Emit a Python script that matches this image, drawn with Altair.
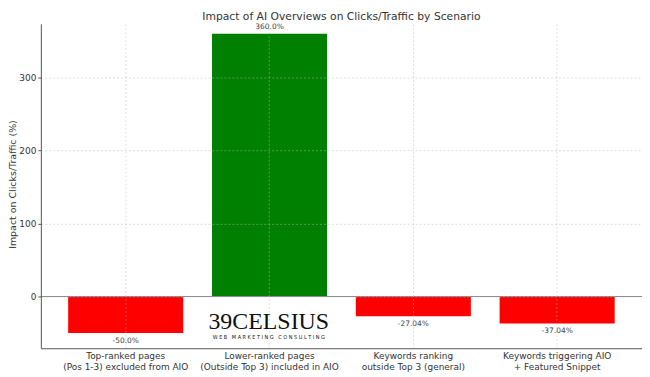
import altair as alt
import pandas as pd

categories = [
    "Top-ranked pages\n(Pos 1-3) excluded from AIO",
    "Lower-ranked pages\n(Outside Top 3) included in AIO",
    "Keywords ranking\noutside Top 3 (general)",
    "Keywords triggering AIO\n+ Featured Snippet",
]
values = [-50.0, 360.0, -27.04, -37.04]
colors = ["#ff0000", "#008000", "#ff0000", "#ff0000"]

df = pd.DataFrame({
    "cat": categories,
    "val": values,
    "color": colors,
    "label": [f"{v}%" for v in values],
    "pos": [v >= 0 for v in values],
})

FONT = "DejaVu Sans"
GRID = dict(gridColor="#b8b8b8", gridOpacity=0.6, gridDash=[2, 2], gridWidth=0.8)
x = alt.X("cat:N", sort=categories, title=None,
          scale=alt.Scale(paddingInner=0.2, paddingOuter=0.19),
          axis=alt.Axis(labelExpr="split(datum.label, '\\n')", labelAngle=0,
                        labelFontSize=9, labelColor="#333333", labelFont=FONT,
                        labelPadding=3, tickSize=0, domainColor="#555555",
                        grid=True, bandPosition=0.5, labelLineHeight=11,
                        zindex=1, **GRID))
y = alt.Y("val:Q", title="Impact on Clicks/Traffic (%)",
          scale=alt.Scale(domain=[-70.9, 373.6], nice=False, zero=False),
          axis=alt.Axis(values=[0, 100, 200, 300], labelFontSize=9,
                        labelColor="#333333", labelFont=FONT, tickSize=3,
                        tickColor="#555555", domainColor="#555555",
                        titleFontSize=9.5, titleFont=FONT, titleColor="#333333",
                        titleFontWeight="normal", titleBaseline="middle",
                        titleX=-28, titleY=161, labelPadding=2,
                        grid=True, zindex=1, **GRID))

base = alt.Chart(df)
bars = base.mark_bar().encode(x=x, y=y, y2=alt.datum(0),
                              color=alt.Color("color:N", scale=None))
zero = alt.Chart(pd.DataFrame({"z": [0]})).mark_rule(color="#888888", strokeWidth=1).encode(y=alt.Y("z:Q"))
lab_pos = base.transform_filter("datum.pos").mark_text(
    baseline="bottom", dy=-3, fontSize=7.5, font=FONT, color="#444444"
).encode(x=alt.X("cat:N", sort=categories), y="val:Q", text="label:N")
lab_neg = base.transform_filter("!datum.pos").mark_text(
    baseline="top", dy=4, fontSize=7.5, font=FONT, color="#444444"
).encode(x=alt.X("cat:N", sort=categories), y="val:Q", text="label:N")

wm1 = alt.Chart(pd.DataFrame({"t": ["39CELSIUS"]})).mark_text(
    font="Liberation Serif", fontSize=24, color="#111111", baseline="alphabetic"
).encode(text="t:N", x=alt.value(229), y=alt.value(307))
wm2 = alt.Chart(pd.DataFrame({"t": ["W E B\u00a0\u00a0 M A R K E T I N G\u00a0\u00a0 C O N S U L T I N G"]})).mark_text(
    font="DejaVu Sans Condensed", fontSize=5.5, color="#111111", baseline="alphabetic"
).encode(text="t:N", x=alt.value(229), y=alt.value(317))

chart = alt.layer(bars, zero, lab_pos, lab_neg, wm1, wm2).properties(
    width=604, height=326,
    title=alt.Title("Impact of AI Overviews on Clicks/Traffic by Scenario",
                    fontSize=10.8, font=FONT, fontWeight="normal", color="#333333",
                    offset=1),
    autosize=alt.AutoSizeParams(type="none"),
    padding={"left": 33, "top": 15, "right": 0, "bottom": 26},
).configure_view(stroke=None)

chart.save("out.html", embed_options={"renderer": "svg", "actions": False})
